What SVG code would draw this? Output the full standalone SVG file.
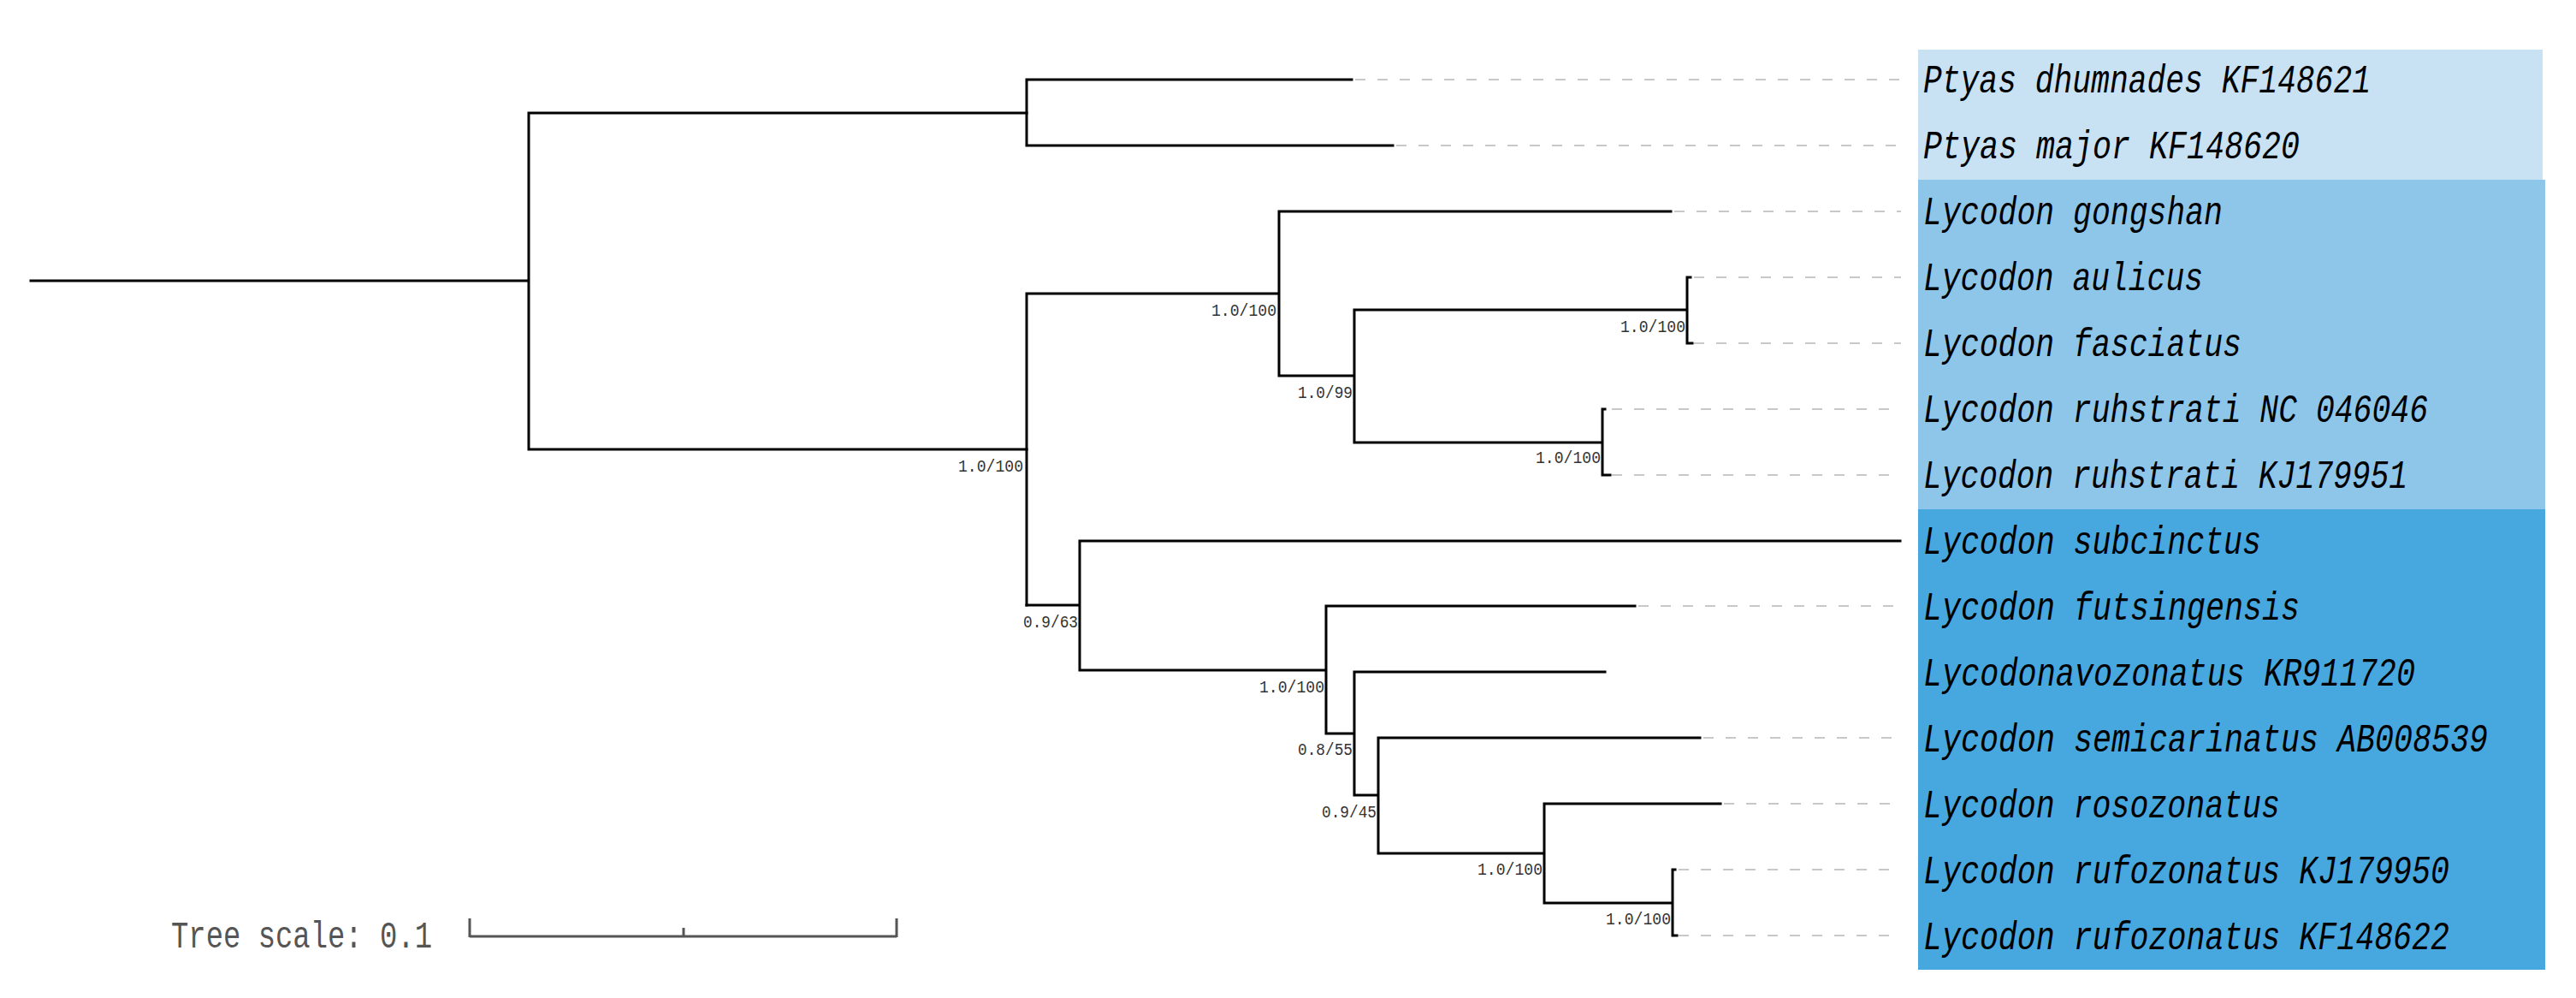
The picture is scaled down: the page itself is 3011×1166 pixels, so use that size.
<svg xmlns="http://www.w3.org/2000/svg" width="3011" height="1166" viewBox="0 0 3011 1166">
<style>
.b{stroke:#000;stroke-width:3;fill:none;stroke-linecap:square}
.d{stroke:#c8c8c8;stroke-width:2;stroke-dasharray:12 14;fill:none}
.t{font-family:"Liberation Mono","DejaVu Sans Mono",monospace;font-style:italic;font-size:46px;fill:#000}
.s{font-family:"Liberation Mono","DejaVu Sans Mono",monospace;font-size:21px;fill:#333}
.sc{font-family:"Liberation Mono","DejaVu Sans Mono",monospace;font-size:44px;fill:#555}
</style>
<rect width="3011" height="1166" fill="#fff"/>
<g id="bands">
<rect x="2242" y="58" width="730" height="152" fill="#c9e2f3"/>
<rect x="2242" y="210" width="733" height="385" fill="#8ec6ea"/>
<rect x="2242" y="595" width="733" height="538" fill="#47a8e0"/>
</g>
<g id="connectors">
<path class="b" d="M36 328H618M618 132V525M618 132H1200M618 525H1200"/>
<path class="b" d="M1200 93V170M1200 93H1580M1200 170H1628"/>
<path class="b" d="M1200 343V707M1200 343H1495M1495 247V439M1495 247H1953M1495 439H1583M1583 362V517M1583 362H1972M1972 324V401M1972 324H1976M1972 401H1978M1583 517H1873M1873 478V555M1873 478H1876M1873 555H1882"/>
<path class="b" d="M1200 707H1262M1262 632V783M1262 632H2221M1262 783H1550M1550 708V857M1550 708H1911M1550 857H1583M1583 785V929M1583 785H1876M1583 929H1611M1611 862V997M1611 862H1987M1611 997H1805M1805 939V1055M1805 939H2011M1805 1055H1955M1955 1016V1093M1955 1016H1958M1955 1093H1960"/>
<path class="d" d="M1584 93H2222M1632 170H2222M1957 247H2222M1980 324H2222M1980 401H2222M1884 478H2222M1884 555H2222M1915 708H2222M1991 862H2222M2015 939H2222M1962 1016H2222M1962 1093H2222"/>
</g>
<g id="support">
<text class="s" x="1196" y="551" text-anchor="end" textLength="76" lengthAdjust="spacingAndGlyphs">1.0/100</text>
<text class="s" x="1492" y="369" text-anchor="end" textLength="76" lengthAdjust="spacingAndGlyphs">1.0/100</text>
<text class="s" x="1581" y="465" text-anchor="end" textLength="64" lengthAdjust="spacingAndGlyphs">1.0/99</text>
<text class="s" x="1970" y="388" text-anchor="end" textLength="76" lengthAdjust="spacingAndGlyphs">1.0/100</text>
<text class="s" x="1871" y="541" text-anchor="end" textLength="76" lengthAdjust="spacingAndGlyphs">1.0/100</text>
<text class="s" x="1260" y="733" text-anchor="end" textLength="64" lengthAdjust="spacingAndGlyphs">0.9/63</text>
<text class="s" x="1548" y="809" text-anchor="end" textLength="76" lengthAdjust="spacingAndGlyphs">1.0/100</text>
<text class="s" x="1581" y="882" text-anchor="end" textLength="64" lengthAdjust="spacingAndGlyphs">0.8/55</text>
<text class="s" x="1609" y="955" text-anchor="end" textLength="64" lengthAdjust="spacingAndGlyphs">0.9/45</text>
<text class="s" x="1803" y="1022" text-anchor="end" textLength="76" lengthAdjust="spacingAndGlyphs">1.0/100</text>
<text class="s" x="1953" y="1080" text-anchor="end" textLength="76" lengthAdjust="spacingAndGlyphs">1.0/100</text>
</g>
<g id="tips">
<text class="t" x="2248" y="108" textLength="523" lengthAdjust="spacingAndGlyphs">Ptyas dhumnades KF148621</text>
<text class="t" x="2248" y="185" textLength="440" lengthAdjust="spacingAndGlyphs">Ptyas major KF148620</text>
<text class="t" x="2248" y="262" textLength="350" lengthAdjust="spacingAndGlyphs">Lycodon gongshan</text>
<text class="t" x="2248" y="339" textLength="327" lengthAdjust="spacingAndGlyphs">Lycodon aulicus</text>
<text class="t" x="2248" y="416" textLength="372" lengthAdjust="spacingAndGlyphs">Lycodon fasciatus</text>
<text class="t" x="2248" y="493" textLength="590" lengthAdjust="spacingAndGlyphs">Lycodon ruhstrati NC 046046</text>
<text class="t" x="2248" y="570" textLength="566" lengthAdjust="spacingAndGlyphs">Lycodon ruhstrati KJ179951</text>
<text class="t" x="2248" y="647" textLength="395" lengthAdjust="spacingAndGlyphs">Lycodon subcinctus</text>
<text class="t" x="2248" y="724" textLength="440" lengthAdjust="spacingAndGlyphs">Lycodon futsingensis</text>
<text class="t" x="2248" y="801" textLength="575" lengthAdjust="spacingAndGlyphs">Lycodonavozonatus KR911720</text>
<text class="t" x="2248" y="878" textLength="660" lengthAdjust="spacingAndGlyphs">Lycodon semicarinatus AB008539</text>
<text class="t" x="2248" y="955" textLength="417" lengthAdjust="spacingAndGlyphs">Lycodon rosozonatus</text>
<text class="t" x="2248" y="1032" textLength="615" lengthAdjust="spacingAndGlyphs">Lycodon rufozonatus KJ179950</text>
<text class="t" x="2248" y="1109" textLength="615" lengthAdjust="spacingAndGlyphs">Lycodon rufozonatus KF148622</text>
</g>
<g id="scale">
<text class="sc" x="200" y="1107" textLength="305" lengthAdjust="spacingAndGlyphs">Tree scale: 0.1</text>
<path d="M549 1073V1095M549 1094H1048M1048 1073V1095M799 1084V1094" stroke="#555" stroke-width="3" fill="none"/>
</g>
</svg>
